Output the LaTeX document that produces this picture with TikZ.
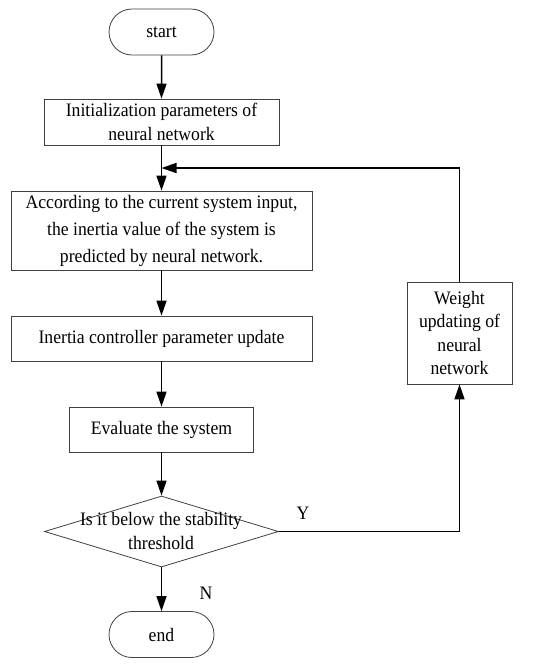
\documentclass[tikz,border=0pt]{standalone}
\usepackage{fontspec}
\setmainfont{Liberation Serif}[FakeStretch=0.93]
\usetikzlibrary{shapes.geometric,shapes.misc,arrows.meta}
\begin{document}
\begin{tikzpicture}[x=1pt,y=-1pt,
  every node/.style={font=\fontsize{19}{23.5}\selectfont},
  box/.style={draw=black!75, line width=0.8pt, rectangle, inner sep=0pt, align=center},
  term/.style={draw=black!75, line width=0.8pt, rounded rectangle, minimum width=105pt, minimum height=46pt, inner sep=0pt},
  flow/.style={line width=1.5pt, -{Triangle[length=15pt,width=10pt]}},
  plain/.style={line width=1pt}]
\useasboundingbox (0,0) rectangle (550,667);
\node[term] (start) at (161.5,32) {start};
\node[box, minimum width=235pt, minimum height=46pt] (init) at (161.5,122) {Initialization parameters of\\neural network};
\node[box, minimum width=301pt, minimum height=79pt, font=\fontsize{19}{27}\selectfont] (pred) at (161.5,230.5) {According to the current system input,\\the inertia value of the system is\\predicted by neural network.};
\node[box, minimum width=301pt, minimum height=45pt] (upd) at (161.5,338.5) {Inertia controller parameter update};
\node[box, minimum width=184pt, minimum height=45pt] (eval) at (161.5,429.5) {Evaluate the system};
\node[diamond, draw=black!75, line width=0.8pt, minimum width=234pt, minimum height=71pt, inner sep=0pt] (dec) at (161.5,531.5) {};
\node[align=center] (dectext) at (161,531) {Is it below the stability\\threshold};
\node[term] (end) at (161.5,634.5) {end};
\node[box, minimum width=105pt, minimum height=102pt] (wt) at (459.5,333) {Weight\\updating of\\neural\\network};
\coordinate (fb) at (161.5,168);
\coordinate (fbr) at (wt.north |- fb);
\coordinate (dr) at (wt.south |- dec.east);
\node (ylab) at (303,513) {Y};
\node (nlab) at (206,593) {N};
\draw[flow] (start) -- (init);
\draw[flow] (init) -- (pred);
\draw[flow] (pred) -- (upd);
\draw[flow] (upd) -- (eval);
\draw[flow] (eval) -- (dec);
\draw[flow] (dec) -- (end);
\draw[plain] (dec.east) -- (dr);
\draw[flow] (dr) -- (wt.south);
\draw[plain] (wt.north) -- (fbr);
\draw[flow] (fbr) -- (fb);
\end{tikzpicture}
\end{document}
